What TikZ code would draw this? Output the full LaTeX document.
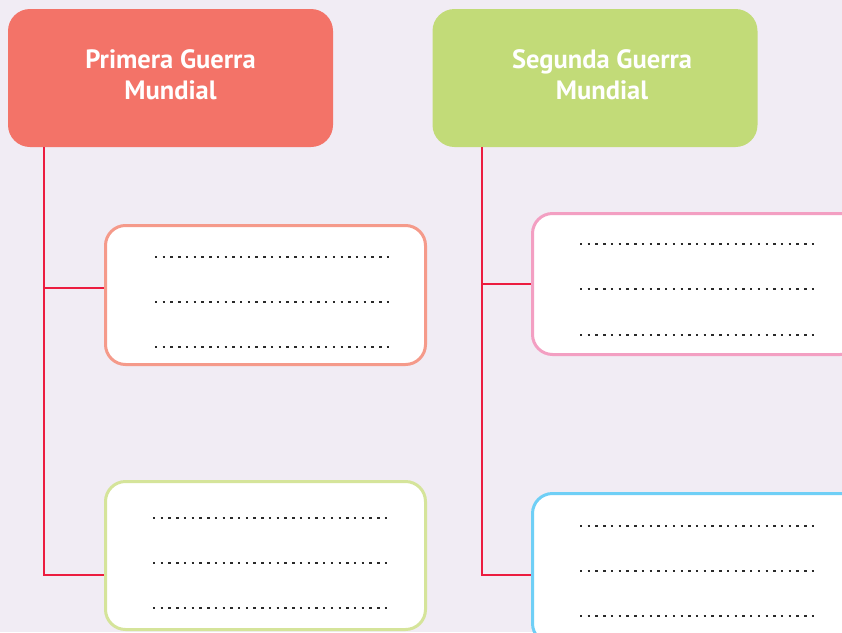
\documentclass[tikz,border=0pt]{standalone}
\usepackage{fontspec}
\setmainfont{PT Sans}
\definecolor{bgc}{HTML}{F1ECF4}
\definecolor{hred}{HTML}{F37368}
\definecolor{hgreen}{HTML}{C2DB78}
\definecolor{lred}{HTML}{EC1C3F}
\definecolor{bsalmon}{HTML}{F59A8A}
\definecolor{blgreen}{HTML}{D5E49A}
\definecolor{bpink}{HTML}{F39FC2}
\definecolor{bblue}{HTML}{6FCFF6}
\definecolor{dotc}{HTML}{2A2A2A}
\begin{document}
\begin{tikzpicture}[x=1pt,y=-1pt,
  head/.style={rectangle, rounded corners=22pt, draw=none,
    minimum width=325pt, minimum height=138pt, inner sep=0pt},
  headtext/.style={text=white, font=\fontsize{26.5}{31}\selectfont\bfseries,
    align=center, inner sep=0pt},
  box/.style={rectangle, rounded corners=20pt, fill=white, line width=3pt,
    inner sep=0pt},
  conn/.style={draw=lred, line width=2pt},
  dotline/.style={draw=dotc, line width=2.4pt, dash pattern=on 2.4pt off 5.33pt}]
\fill[bgc] (0,0) rectangle (842,632);
\clip (0,0) rectangle (842,632);
\useasboundingbox (0,0) rectangle (842,632);

\node[head, fill=hred,
  label={[headtext, yshift=3pt]center:{Primera Guerra\\Mundial}}] (h1) at (170.5,78) {};
\node[head, fill=hgreen,
  label={[headtext, yshift=3pt, xshift=7pt]center:{Segunda Guerra\\Mundial}}] (h2) at (595,78) {};

\node[box, draw=bsalmon, minimum width=320pt, minimum height=139pt] (b1) at (265.5,295) {};
\node[box, draw=blgreen, minimum width=320pt, minimum height=148pt] (b2) at (265.5,555.5) {};
\node[box, draw=bpink, minimum width=327.5pt, minimum height=141pt] (b3) at (696.25,284) {};
\node[box, draw=bblue, minimum width=327.5pt, minimum height=150pt] (b4) at (696.25,568.5) {};

\coordinate (t1) at (44,147);
\coordinate (t2) at (482,147);
\coordinate (j1) at (44,288);
\coordinate (j2) at (482,284);

\draw[conn] (t1) |- ([yshift=-19.5pt]b2.west);
\draw[conn] (j1) -- (j1 -| b1.west);
\draw[conn] (t2) |- ([yshift=-6.5pt]b4.west);
\draw[conn] (j2) -- (j2 -| b3.west);

\foreach \y in {257,302,347} \draw[dotline] (155,\y) -- (390,\y);
\foreach \y in {518,563,608} \draw[dotline] (153,\y) -- (388,\y);
\foreach \y in {244,289,335} \draw[dotline] (580,\y) -- (815,\y);
\foreach \y in {526,571,616} \draw[dotline] (580,\y) -- (815,\y);
\end{tikzpicture}
\end{document}
